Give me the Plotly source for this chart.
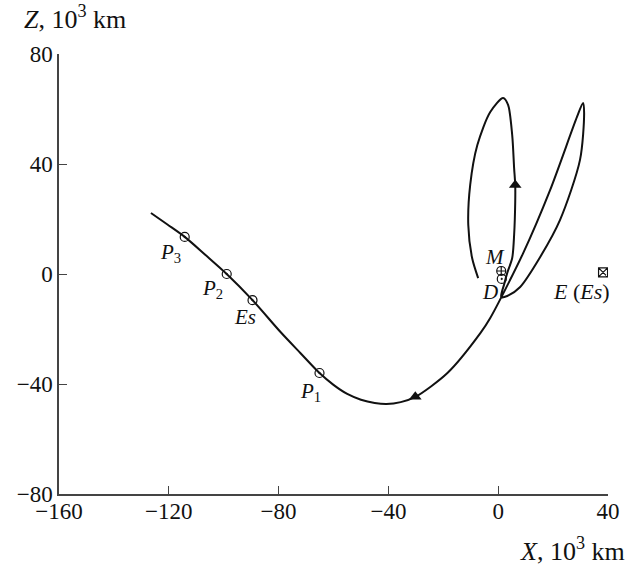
import plotly.graph_objects as go

# Trajectory (X, Z in 10^3 km)
traj_x = [-126.5, -120.5, -114.2, -106.5, -98.9, -89.5, -79.3, -72.0, -65.1, -60.0,
          -55.0, -50.0, -45.0, -40.7, -35.5, -30.2, -18.5,
          -6.5, -2.9, 9.1, 18.9, 28.7, 30.9, 31.3, 29.8, 22.5, 15.3, 8.0, 3.3, 1.1,
          2.2, 3.3, 5.1, 5.8, 6.2, 6.2, 5.8, 5.1, 3.6, 1.8, -2.9, -7.6, -10.2, -10.9,
          -9.5, -7.3]
traj_z = [22.2, 18.0, 13.5, 6.8, 0.0, -9.5, -21.1, -28.8, -36.0, -40.3,
          -43.6, -45.7, -46.9, -47.3, -46.6, -44.7, -36.0,
          -21.5, -16.0, 7.6, 30.5, 57.1, 62.2, 58.5, 41.5, 19.6, 6.2, -4.7, -8.0, -8.4,
          -3.6, 0.4, 5.8, 14.2, 26.2, 32.4, 38.5, 50.5, 61.5, 64.0, 58.9, 46.9, 32.4, 17.8,
          5.8, -1.5]

# Points on trajectory
pt_names = ["P<sub>3</sub>", "P<sub>2</sub>", "Es", "P<sub>1</sub>"]
pt_x = [-114.2, -98.9, -89.5, -65.1]
pt_z = [13.5, 0.0, -9.5, -36.0]
pt_label_x = [-119.3, -104.0, -92.4, -68.4]
pt_label_z = [7.5, -5.5, -15.8, -43.0]

# Direction arrows
arrow_x = [-30.2, 6.2]
arrow_z = [-44.6, 32.4]

# Special bodies
moon_x, moon_z = [1.1], [1.1]
d_x, d_z = [1.3], [-1.8]
earth_x, earth_z = [38.2], [0.6]

x_ticks = [-160, -120, -80, -40, 0, 40]
z_ticks = [-80, -40, 0, 40, 80]

FONT = "Liberation Serif, Times New Roman, serif"

fig = go.Figure()
fig.add_trace(go.Scatter(x=traj_x, y=traj_z, mode="lines",
                         line=dict(color="#111111", width=2, shape="spline", smoothing=0.8),
                         hoverinfo="skip", showlegend=False))
fig.add_trace(go.Scatter(x=pt_x, y=pt_z, mode="markers",
                         marker=dict(symbol="circle-open-dot", size=9, color="#111111",
                                     line=dict(width=1.2)),
                         showlegend=False))
fig.add_trace(go.Scatter(x=arrow_x, y=arrow_z, mode="markers",
                         marker=dict(symbol="triangle-up", size=11, color="#111111"),
                         showlegend=False))
fig.add_trace(go.Scatter(x=moon_x, y=moon_z, mode="markers",
                         marker=dict(symbol="circle-cross-open", size=9, color="#111111",
                                     line=dict(width=1.2)),
                         showlegend=False))
fig.add_trace(go.Scatter(x=d_x, y=d_z, mode="markers",
                         marker=dict(symbol="circle-open-dot", size=9, color="#111111",
                                     line=dict(width=1.2)),
                         showlegend=False))
fig.add_trace(go.Scatter(x=earth_x, y=earth_z, mode="markers",
                         marker=dict(symbol="square-x-open", size=9, color="#111111",
                                     line=dict(width=1.2)),
                         showlegend=False))

annots = []
for name, lx, lz in zip(pt_names, pt_label_x, pt_label_z):
    if name.startswith("P"):
        txt = "<i>P</i>" + name[1:]
    else:
        txt = "<i>" + name + "</i>"
    annots.append(dict(x=lx, y=lz, text=txt, showarrow=False,
                       font=dict(family=FONT, size=21, color="#111111")))
annots.append(dict(x=-1.1, y=6.2, text="<i>M</i>", showarrow=False,
                   font=dict(family=FONT, size=21, color="#111111")))
annots.append(dict(x=-3.0, y=-6.5, text="<i>D</i>", showarrow=False,
                   font=dict(family=FONT, size=21, color="#111111")))
annots.append(dict(x=30.5, y=-6.5, text="<i>E</i> (<i>Es</i>)", showarrow=False,
                   font=dict(family=FONT, size=22, color="#111111")))
annots.append(dict(xref="paper", yref="paper", x=-0.068, y=1.083, xanchor="left",
                   yanchor="middle", text="<i>Z</i>, 10<sup>3</sup> km", showarrow=False,
                   font=dict(family=FONT, size=26, color="#111111")))
annots.append(dict(xref="paper", yref="paper", x=1.035, y=-0.125, xanchor="right",
                   yanchor="middle", text="<i>X</i>, 10<sup>3</sup> km", showarrow=False,
                   font=dict(family=FONT, size=26, color="#111111")))

fig.update_layout(
    width=635, height=570,
    margin=dict(l=59, r=27, t=54, b=76),
    paper_bgcolor="white", plot_bgcolor="white",
    font=dict(family=FONT, size=23, color="#111111"),
    annotations=annots,
    xaxis=dict(range=[-160, 40], tickvals=x_ticks, showgrid=False, zeroline=False,
               automargin=False, ticklabelstandoff=-4,
               showline=True, linecolor="#444444", linewidth=1.5,
               ticks="inside", ticklen=8, tickcolor="#444444", tickwidth=1.2,
               tickfont=dict(family=FONT, size=23, color="#111111")),
    yaxis=dict(range=[-80, 80], tickvals=z_ticks, showgrid=False, zeroline=False,
               automargin=False,
               showline=True, linecolor="#444444", linewidth=1.5,
               ticks="inside", ticklen=8, tickcolor="#444444", tickwidth=1.2,
               tickfont=dict(family=FONT, size=23, color="#111111")),
)

fig.write_html("out.html", config={"displayModeBar": False},
               post_script="document.body.style.margin='0px';")
